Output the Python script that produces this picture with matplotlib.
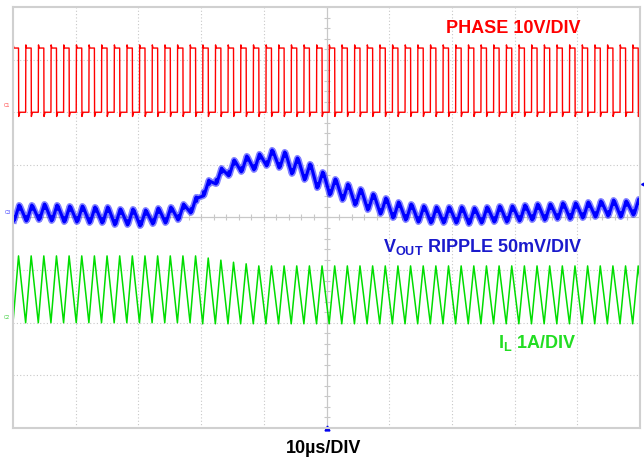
import numpy as np
import matplotlib
matplotlib.use('Agg')
import matplotlib.pyplot as plt

# scope settings
T_SW = 2.017        # switching period, us
T_ON = 0.88         # high-side on time, us
US_PER_DIV = 10.0

# PHASE (C1, 10 V/div, ground at +2 div)
phase_high = 12.2
phase_low = 0.0
phase_overshoot = 0.6
phase_undershoot = -0.8

# VOUT ripple (C3, 50 mV/div, ground at 0 div), centre of each switching cycle, mV
vout_mid = [4.3, 4.3, 5.2, 4.3, 3.3, 3.3, 2.4, 2.4, 0.5, 0.5,
            -0.5, 1.4, 2.4, 5.2, 11.9, 28.0, 39.4, 47.1, 50.9, 52.8,
            56.6, 54.7, 49.0, 43.3, 35.6, 29.0, 24.2, 19.5, 14.7, 10.9,
            7.1, 5.2, 3.3, 2.4, 2.4, 2.4, 1.4, 2.4, 3.3, 3.3,
            4.3, 5.2, 5.2, 6.2, 6.2, 7.1, 8.1, 9.0, 8.1, 10.0]
vout_ripple_pp = 15.0
vout_spike = 4.0    # switching-edge spikes on the ripple

# IL (C2, 1 A/div, ground at -2 div), per cycle, A
il_peak = [1.27] * 15 + [1.23, 1.19, 1.15, 1.12] + [1.08] * 31
il_valley = [0.0] * 15 + [-0.02] * 36

n = len(il_peak)

# build vertex lists cycle by cycle
t_il, y_il = [], []
t_vo, y_vo = [], []
t_ph, y_ph = [], []
for k in range(n):
    t0 = k * T_SW
    lo = vout_mid[k] - vout_ripple_pp / 2
    hi = vout_mid[k] + vout_ripple_pp / 2
    t_il += [t0, t0 + T_ON]
    y_il += [il_valley[k], il_peak[k]]
    t_vo += [t0 + 0.1, t0 + 0.15, t0 + 0.25, t0 + T_ON + 0.1, t0 + T_ON + 0.15, t0 + T_ON + 0.25]
    y_vo += [lo, lo + vout_spike, lo + 1.0, hi, hi - vout_spike, hi - 1.0]
    t_ph += [t0, t0 + 0.03, t0 + 0.15, t0 + T_ON, t0 + T_ON + 0.03, t0 + T_ON + 0.2]
    y_ph += [phase_low, phase_high + phase_overshoot, phase_high, phase_high,
             phase_undershoot, phase_low]
t_il.append(n * T_SW)
y_il.append(il_valley[n])
t_vo.append(n * T_SW + 0.1)
y_vo.append(vout_mid[-1] - vout_ripple_pp / 2)

# to screen divisions
ph_div = 2 + np.array(y_ph) / 10.0
vo_div = 0 + np.array(y_vo) / 50.0
il_div = -2 + np.array(y_il) / 1.0

plt.rcParams['font.family'] = ['Liberation Sans', 'DejaVu Sans']
plt.rcParams['mathtext.fontset'] = 'custom'
plt.rcParams['mathtext.rm'] = 'Liberation Sans:bold'
plt.rcParams['mathtext.default'] = 'rm'

fig = plt.figure(figsize=(6.44, 4.58), dpi=100)
ax = fig.add_axes([13 / 644, 1 - 428 / 458, 627 / 644, 421 / 458])
ax.set_xlim(0, 10 * US_PER_DIV)
ax.set_ylim(-4, 4)

grid_c = '#c8c8c8'
for x in np.arange(1, 10) * US_PER_DIV:
    if x != 50:
        ax.axvline(x, color=grid_c, ls=(0, (1, 2)), lw=0.8, zorder=0)
for y in range(-3, 4):
    if y != 0:
        ax.axhline(y, color=grid_c, ls=(0, (1, 2)), lw=0.8, zorder=0)
ax.axvline(50, color=grid_c, lw=0.9, zorder=0)
ax.axhline(0, color=grid_c, lw=0.9, zorder=0)
minor_x = np.arange(0, 100.1, 2)
minor_y = np.arange(-4, 4.01, 0.2)
ax.plot(minor_x, np.zeros_like(minor_x), ls='none', marker='|', ms=5, color=grid_c, mew=0.8, zorder=0)
ax.plot(np.full_like(minor_y, 50), minor_y, ls='none', marker='_', ms=5, color=grid_c, mew=0.8, zorder=0)

for s in ax.spines.values():
    s.set_color('#d0d0d0')
    s.set_linewidth(1.5)
ax.set_xticks([])
ax.set_yticks([])

ax.plot(t_ph, ph_div, color='#ff0000', lw=1.0)
ax.plot(t_vo, vo_div, color='#2020ff', lw=4.5, alpha=0.55)
ax.plot(t_vo, vo_div, color='#0000ff', lw=2.2)
ax.plot(t_il, il_div, color='#00dd00', lw=1.1)

# channel ground markers and trigger arrows
ax.text(-0.9, 2.08, 'C1', color='#ff4040', fontsize=3.5, ha='center', va='bottom', clip_on=False)
ax.text(-0.9, 0.05, 'C3', color='#4040ff', fontsize=3.5, ha='center', va='bottom', clip_on=False)
ax.text(-0.9, -1.95, 'C2', color='#40d040', fontsize=3.5, ha='center', va='bottom', clip_on=False)
ax.plot([100.6], [0.64], marker='<', ms=4, color='#0000ee', clip_on=False)
ax.plot([50], [-4], marker='^', ms=3.5, color='#0000ee', clip_on=False)

ax.text(69.0, 3.5, 'PHASE 10V/DIV', color='#ff0000', fontsize=13, fontweight='bold', va='baseline')
ax.text(59.0, -0.66, '$V_{OUT}$ RIPPLE 50mV/DIV', color='#1a1acc', fontsize=13, fontweight='bold', va='baseline')
ax.text(77.3, -2.48, '$I_{L}$ 1A/DIV', color='#22dd22', fontsize=13, fontweight='bold', va='baseline')
fig.text(0.503, 0.01, '10\u00b5s/DIV', color='black', fontsize=13, fontweight='bold', ha='center', va='baseline')

fig.savefig('out.png', dpi=100)
